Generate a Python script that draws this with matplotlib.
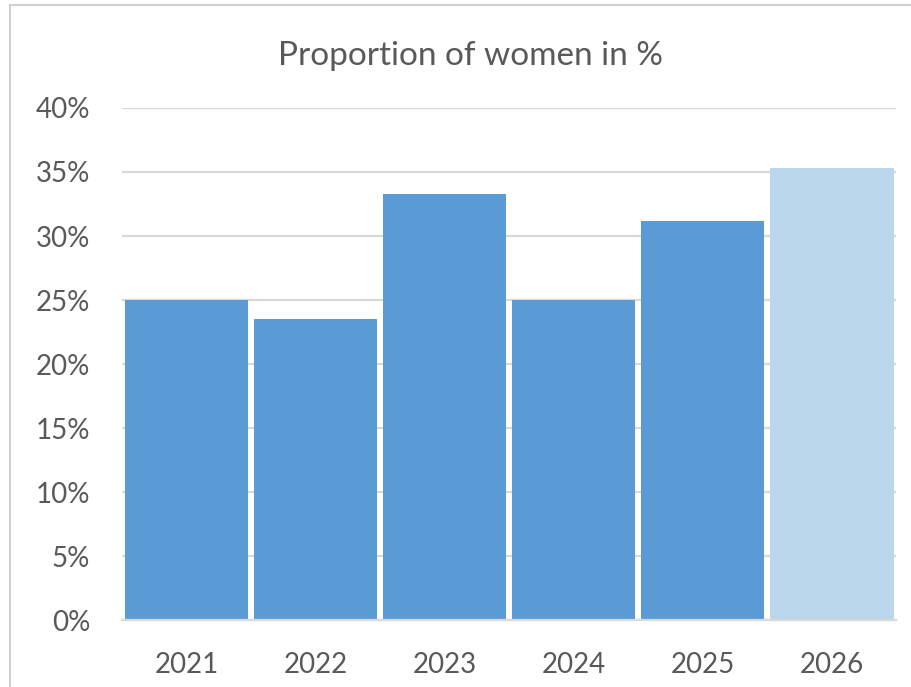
import matplotlib.pyplot as plt
from matplotlib.lines import Line2D
from matplotlib.ticker import FuncFormatter
import numpy as np

# ─── Data ────────────────────────────────────────────────────────────────────
years = ["2021", "2022", "2023", "2024", "2025", "2026"]
share_women = [25.0, 23.5, 33.3, 25.0, 31.2, 35.3]
bar_colors = ["#5B9BD5", "#5B9BD5", "#5B9BD5", "#5B9BD5", "#5B9BD5", "#BBD7EC"]
y_ticks = [0, 5, 10, 15, 20, 25, 30, 35, 40]

TEXT = "#595959"
GRID = "#D9D9D9"
plt.rcParams["font.family"] = ["Lato", "DejaVu Sans"]

# ─── Figure ──────────────────────────────────────────────────────────────────
fig = plt.figure(figsize=(9.11, 6.87), dpi=100)
ax = fig.add_axes([0.134, 0.0975, 0.85, 0.7453])

x = np.arange(len(years))
ax.bar(x, share_women, width=0.955, color=bar_colors, zorder=3)

ax.set_xlim(-0.5, len(years) - 0.5)
ax.set_ylim(0, 40)
ax.set_yticks(y_ticks)
ax.yaxis.set_major_formatter(FuncFormatter(lambda v, _: f"{v:.0f}%"))
ax.set_xticks(x)
ax.set_xticklabels(years)

ax.grid(axis="y", color=GRID, linewidth=1.6, zorder=0)
for side in ["top", "right", "left"]:
    ax.spines[side].set_visible(False)
ax.spines["bottom"].set_color(GRID)
ax.spines["bottom"].set_linewidth(1.6)
ax.spines["bottom"].set_zorder(4)

ax.tick_params(axis="both", length=0, labelsize=20, labelcolor=TEXT)
ax.tick_params(axis="x", pad=23)
ax.tick_params(axis="y", pad=23)

fig.text(0.517, 0.918, "Proportion of women in %", ha="center", va="center",
         fontsize=24, color=TEXT)

# light frame around the chart area
fig.add_artist(Line2D([0.011, 1.0], [0.993, 0.993], color="#D0D0D0", lw=1.5))
fig.add_artist(Line2D([0.011, 0.011], [0.0, 0.993], color="#D0D0D0", lw=1.5))

fig.savefig("out.png", dpi=100)
